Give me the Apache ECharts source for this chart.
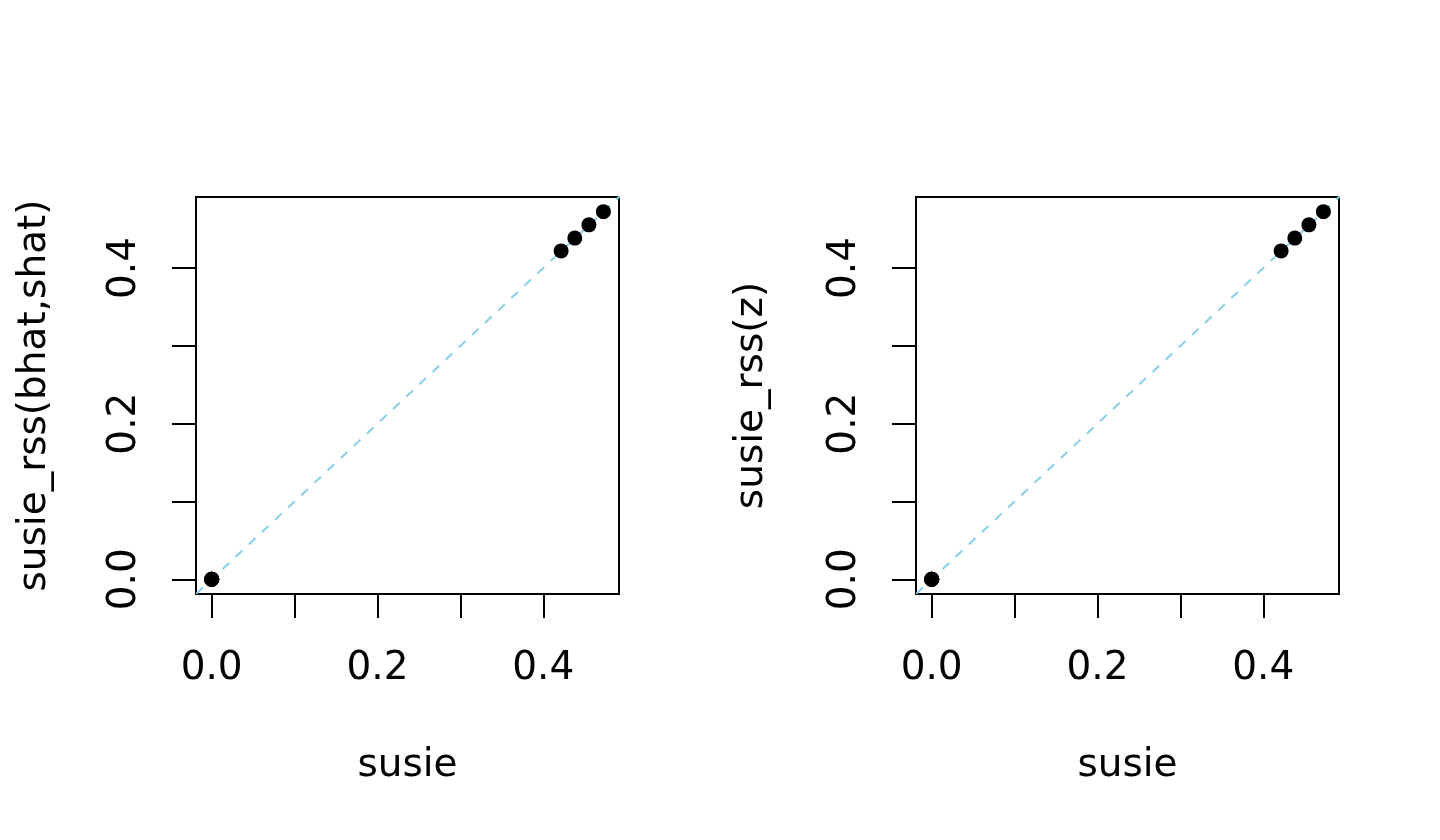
<!DOCTYPE html>
<html>
<head>
<meta charset="utf-8">
<script src="https://cdn.jsdelivr.net/npm/echarts@6/dist/echarts.min.js"></script>
<style>
html,body{margin:0;padding:0;background:#fff;}
#chart{width:1440px;height:840px;}
</style>
</head>
<body>
<div id="chart"></div>
<script>
// ---- data ----
const xSusie        = [0, 0, 0, 0, 0, 0.4215, 0.438, 0.455, 0.4725];
const ySusieRssBhat = [0, 0, 0, 0, 0, 0.422, 0.4385, 0.4555, 0.4725];
const ySusieRssZ    = [0, 0, 0, 0, 0, 0.422, 0.4385, 0.4555, 0.4725];
const tickValues  = [0, 0.1, 0.2, 0.3, 0.4];
const labelValues = [0, 0.2, 0.4];
const xTitle = 'susie';
const yTitles = ['susie_rss(bhat,shat)', 'susie_rss(z)'];
const refLine = [[-1, -1], [1, 1]]; // y = x (abline)
const axisMin = -0.0189, axisMax = 0.4913;

const pairs = (xs, ys) => xs.map((x, i) => [x, ys[i]]);
const FONT = 'DejaVu Sans';
const FS = 39;

function xAxisFor(gi) {
  return {
    type: 'value', gridIndex: gi, min: axisMin, max: axisMax,
    name: xTitle, nameLocation: 'middle', nameGap: 172,
    nameTextStyle: {fontFamily: FONT, fontSize: FS, color: '#000', verticalAlign: 'middle'},
    axisLine: {show: false, onZero: false},
    splitLine: {show: false},
    axisTick: {show: true, inside: false, length: 24, customValues: tickValues,
      lineStyle: {color: '#000', width: 2}},
    axisLabel: {customValues: labelValues, formatter: v => v.toFixed(1),
      fontFamily: FONT, fontSize: FS, color: '#000', margin: 75,
      verticalAlign: 'middle', align: 'center'}
  };
}
function yAxisFor(gi, gap) {
  return {
    type: 'value', gridIndex: gi, min: axisMin, max: axisMax,
    name: yTitles[gi], nameLocation: 'middle', nameGap: gap, nameRotate: 90,
    nameTextStyle: {fontFamily: FONT, fontSize: FS, color: '#000', verticalAlign: 'middle', align: 'center'},
    axisLine: {show: false, onZero: false},
    splitLine: {show: false},
    axisTick: {show: true, inside: false, length: 24, customValues: tickValues,
      lineStyle: {color: '#000', width: 2}},
    axisLabel: {customValues: labelValues, formatter: v => v.toFixed(1), rotate: 90,
      fontFamily: FONT, fontSize: FS, color: '#000', margin: 71,
      verticalAlign: 'middle', align: 'center'}
  };
}
function lineSeries(gi) {
  return {type: 'line', xAxisIndex: gi, yAxisIndex: gi, data: refLine, symbol: 'none',
    clip: true, silent: true, z: 1,
    lineStyle: {color: '#87CEEB', width: 2, type: [9, 9]}};
}
function scatterSeries(gi, ys) {
  return {type: 'scatter', xAxisIndex: gi, yAxisIndex: gi, data: pairs(xSusie, ys),
    symbol: 'circle', symbolSize: 15, itemStyle: {color: '#000', opacity: 1}, z: 3};
}

const chart = echarts.init(document.getElementById('chart'), null, {renderer: 'canvas'});
chart.setOption({
  animation: false,
  backgroundColor: '#fff',
  grid: [
    {left: 196, top: 197, width: 423, height: 397, show: true, borderColor: '#000', borderWidth: 2, backgroundColor: 'transparent'},
    {left: 916, top: 197, width: 423, height: 397, show: true, borderColor: '#000', borderWidth: 2, backgroundColor: 'transparent'}
  ],
  xAxis: [xAxisFor(0), xAxisFor(1)],
  yAxis: [yAxisFor(0, 161), yAxisFor(1, 164)],
  series: [
    lineSeries(0), scatterSeries(0, ySusieRssBhat),
    lineSeries(1), scatterSeries(1, ySusieRssZ)
  ]
});
</script>
</body>
</html>
